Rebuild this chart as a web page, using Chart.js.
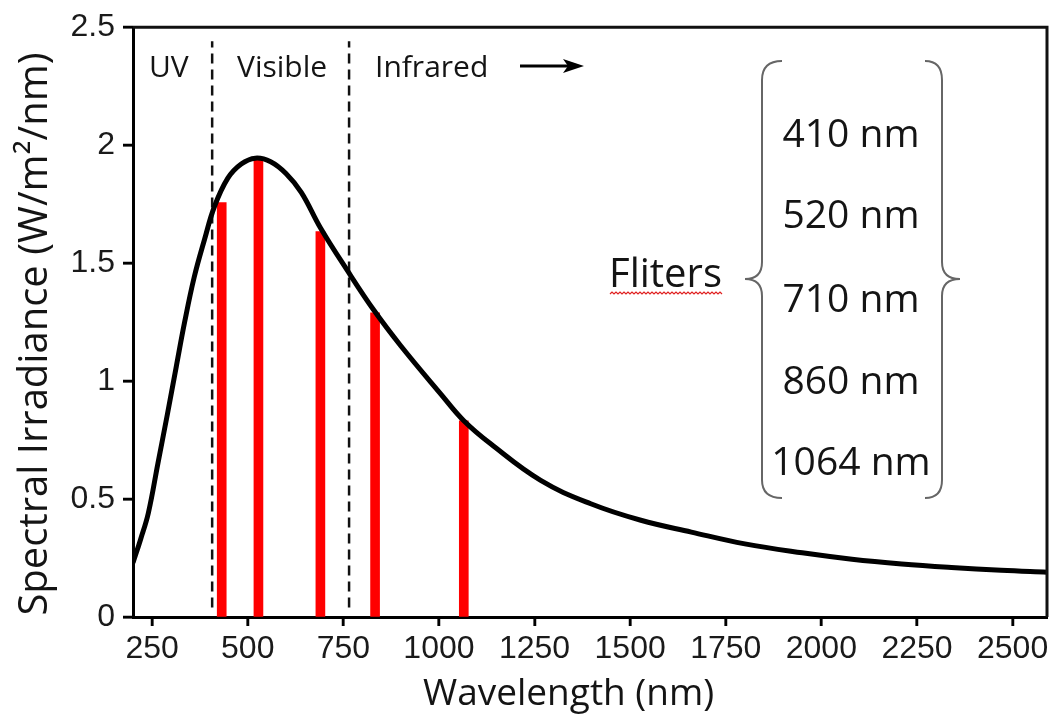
<!DOCTYPE html>
<html>
<head>
<meta charset="utf-8">
<script src="https://cdn.jsdelivr.net/npm/chart.js@4.4.1/dist/chart.umd.min.js"></script>
<style>
  html, body { margin: 0; padding: 0; background: #fff; }
  #grafico { display: block; }
</style>
</head>
<body>
<canvas id="grafico" width="1054" height="722"></canvas>
<script>
// spectral irradiance curve
const wavelengths = [200, 220, 240, 265, 290, 313, 335, 360, 387, 413, 448, 483, 520, 560, 600, 640, 690, 760, 830, 900, 1005, 1065, 1136, 1266, 1397, 1528, 1660, 1800, 1950, 2080, 2210, 2340, 2470, 2590];
const irradiance = [0.23, 0.33, 0.44, 0.65, 0.86, 1.06, 1.25, 1.44, 1.60, 1.74, 1.86, 1.92, 1.945, 1.93, 1.88, 1.80, 1.65, 1.47, 1.30, 1.15, 0.945, 0.832, 0.733, 0.579, 0.48, 0.41, 0.36, 0.31, 0.272, 0.245, 0.225, 0.21, 0.198, 0.19];

// filter bars
const filterX = [432, 528, 690, 833, 1065];
const filterY = [1.757, 1.937, 1.634, 1.289, 0.832];
const filterLabels = ['410 nm', '520 nm', '710 nm', '860 nm', '1064 nm'];

// UV / visible / infrared limits (dashed)
const limits = [407, 765];
const limitLow = 0.04;
const limitHigh = 2.44;
const regions = ['UV', 'Visible', 'Infrared'];

const xTicks = [250, 500, 750, 1000, 1250, 1500, 1750, 2000, 2250, 2500];
const yTicks = [0, 0.5, 1, 1.5, 2, 2.5];

document.addEventListener('DOMContentLoaded', function() {
    const ctx = document.getElementById('grafico').getContext('2d');

    const annotations = {
        id: 'annotations',
        afterDraw(chart) {
            const c = chart.ctx;
            const a = chart.chartArea;
            const sx = chart.scales.x;
            const sy = chart.scales.y;
            c.save();

            // top and right frame
            c.strokeStyle = '#111';
            c.lineWidth = 3;
            c.beginPath();
            c.moveTo(a.left, a.top);
            c.lineTo(a.right, a.top);
            c.lineTo(a.right, a.bottom);
            c.stroke();

            // tick marks outside the axes
            c.strokeStyle = '#000';
            c.lineWidth = 2.5;
            c.beginPath();
            xTicks.forEach(v => {
                const px = Math.round(sx.getPixelForValue(v));
                c.moveTo(px, a.bottom);
                c.lineTo(px, a.bottom + 9);
            });
            yTicks.forEach(v => {
                const py = Math.round(sy.getPixelForValue(v));
                c.moveTo(a.left, py);
                c.lineTo(a.left - 10, py);
            });
            c.stroke();

            c.fillStyle = '#141414';
            c.textBaseline = 'alphabetic';

            // region labels
            c.font = '30px "Open Sans"';
            c.textAlign = 'left';
            c.fillText(regions[0], 149, 77);
            c.fillText(regions[1], 237, 77);
            c.fillText(regions[2], 375, 77);

            // arrow
            c.strokeStyle = '#000';
            c.lineWidth = 3;
            c.beginPath();
            c.moveTo(520, 66);
            c.lineTo(574, 66);
            c.stroke();
            c.fillStyle = '#000';
            c.beginPath();
            c.moveTo(584, 66);
            c.lineTo(563, 59);
            c.lineTo(568, 66);
            c.lineTo(563, 73);
            c.closePath();
            c.fill();

            // filters
            c.fillStyle = '#141414';
            c.font = '40px "Open Sans"';
            c.fillText('Fliters', 609, 287);
            c.strokeStyle = '#e02020';
            c.lineWidth = 1.2;
            c.beginPath();
            for (let x = 610; x <= 723; x += 2) {
                const yy = 293 + ((x / 2) % 2 === 0 ? -1 : 1);
                if (x === 610) c.moveTo(x, yy); else c.lineTo(x, yy);
            }
            c.stroke();

            c.font = '39px "Open Sans"';
            c.textAlign = 'center';
            const baselines = [147, 228, 312, 394, 475];
            filterLabels.forEach((t, i) => c.fillText(t, 851, baselines[i]));

            // braces
            c.strokeStyle = '#666';
            c.lineWidth = 2;
            c.beginPath();
            c.moveTo(782, 61);
            c.quadraticCurveTo(762, 61, 762, 80);
            c.lineTo(762, 262);
            c.quadraticCurveTo(762, 279, 745, 279);
            c.quadraticCurveTo(762, 279, 762, 296);
            c.lineTo(762, 480);
            c.quadraticCurveTo(762, 498, 782, 498);
            c.stroke();
            c.beginPath();
            c.moveTo(925, 61);
            c.quadraticCurveTo(942, 61, 942, 80);
            c.lineTo(942, 262);
            c.quadraticCurveTo(942, 279, 960, 279);
            c.quadraticCurveTo(942, 279, 942, 296);
            c.lineTo(942, 480);
            c.quadraticCurveTo(942, 498, 925, 498);
            c.stroke();

            // axis titles
            c.fillStyle = '#141414';
            c.font = '37px "Open Sans"';
            c.textAlign = 'left';
            c.fillText('Wavelength (nm)', 423, 705);
            c.font = '40px "Open Sans"';
            c.textAlign = 'center';
            c.translate(47, 334);
            c.rotate(-Math.PI / 2);
            c.fillText('Spectral Irradiance (W/m\u00B2/nm)', 0, 0);

            c.restore();
        }
    };

    const datasets = [
        {
            label: 'Irradiance',
            data: wavelengths.map((x, i) => ({ x: x, y: irradiance[i] })),
            borderColor: '#000',
            borderWidth: 5,
            pointRadius: 0,
            tension: 0.4,
            order: 0
        },
        {
            type: 'bar',
            label: 'Filters',
            data: filterX.map((x, i) => ({ x: x, y: filterY[i] })),
            backgroundColor: '#ff0000',
            barThickness: 9,
            grouped: false,
            order: 2
        }
    ];
    limits.forEach(x => {
        datasets.push({
            label: 'limit',
            data: [{ x: x, y: limitLow }, { x: x, y: limitHigh }],
            borderColor: '#111',
            borderWidth: 2.5,
            borderDash: [10, 6],
            pointRadius: 0,
            order: 1
        });
    });

    const tickFont = { family: 'Liberation Sans', size: 32 };

    new Chart(ctx, {
        type: 'line',
        data: { datasets: datasets },
        options: {
            responsive: false,
            animation: false,
            devicePixelRatio: 1,
            layout: { padding: { top: 25, right: 7, left: 0, bottom: 0 } },
            plugins: {
                legend: { display: false },
                tooltip: { enabled: false }
            },
            scales: {
                x: {
                    type: 'linear',
                    min: 200,
                    max: 2590,
                    offset: false,
                    afterBuildTicks: s => { s.ticks = xTicks.map(v => ({ value: v })); },
                    afterFit: s => { s.height = 105; },
                    grid: { offset: false, drawOnChartArea: false, tickLength: 9, tickColor: '#000', tickWidth: 2 },
                    border: { color: '#000', width: 3 },
                    ticks: {
                        font: tickFont,
                        color: '#1a1a1a',
                        padding: 4,
                        maxRotation: 0,
                        autoSkip: false,
                        callback: v => String(v)
                    }
                },
                y: {
                    type: 'linear',
                    min: 0,
                    max: 2.5,
                    afterBuildTicks: s => { s.ticks = yTicks.map(v => ({ value: v })); },
                    afterFit: s => { s.width = 133; },
                    grid: { offset: false, drawOnChartArea: false, tickLength: 10, tickColor: '#000', tickWidth: 2 },
                    border: { color: '#000', width: 3 },
                    ticks: {
                        font: tickFont,
                        color: '#1a1a1a',
                        padding: 8,
                        callback: v => String(v)
                    }
                }
            }
        },
        plugins: [annotations]
    });
});
</script>
</body>
</html>
